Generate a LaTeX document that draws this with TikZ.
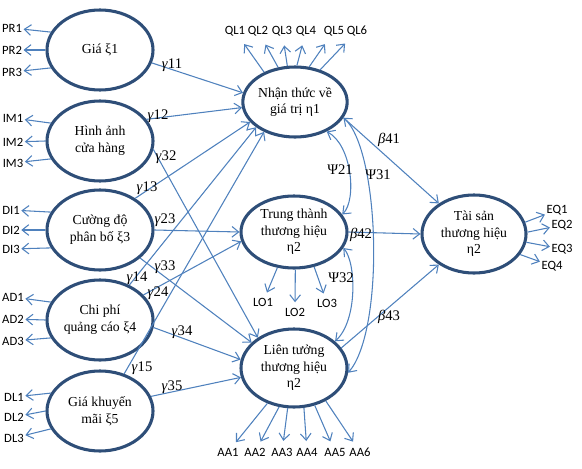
\documentclass[tikz,border=0pt]{standalone}
\usepackage{fontspec}
\setmainfont{Liberation Serif}
\newfontfamily\calibri{Carlito}
\usetikzlibrary{shapes.geometric,arrows.meta}
\definecolor{rimblue}{RGB}{46,78,120}
\definecolor{lineblue}{RGB}{79,129,189}

\begin{document}
\begin{tikzpicture}[x=0.75pt,y=0.75pt,
	latent/.style={ellipse,draw=rimblue,line width=2.3pt,align=center,inner sep=0pt,font=\fontsize{10.3}{12.5}\selectfont},
	exo/.style={latent,minimum width=79.5pt,minimum height=60pt},
	ind/.style={font=\calibri\fontsize{9.5}{10}\selectfont,inner sep=1pt},
	coef/.style={font=\fontsize{11}{12}\selectfont,inner sep=0pt},
	link/.style={draw=lineblue,line width=0.8pt,->},
	>={Straight Barb[length=5pt,width=8pt]}]
				\useasboundingbox (0,0) rectangle (582,-468);

				% exogenous
				\node[exo] (gia) at (100,-50) {Giá ξ1};
				\node[exo] (hinhanh) at (100,-141) {Hình ảnh\\cửa hàng};
				\node[exo] (cuongdo) at (100,-230) {Cường độ\\phân bố ξ3};
				\node[exo] (chiphi) at (100,-320) {Chi phí\\quảng cáo ξ4};
				\node[exo] (khuyenmai) at (100,-411) {Giá khuyến\\mãi ξ5};

				% endogenous
				\node[latent,minimum width=78pt,minimum height=52.5pt] (nhanthuc) at (295,-102) {Nhận thức về\\giá trị η1};
				\node[latent,minimum width=79.5pt,minimum height=54pt] (trungthanh) at (294,-232) {Trung thành\\thương hiệu\\η2};
				\node[latent,minimum width=79.5pt,minimum height=58.5pt] (lientuong) at (294,-368) {Liên tưởng\\thương hiệu\\η2};
				\node[latent,minimum width=78pt,minimum height=58.5pt] (taisan) at (474,-234) {Tài sản\\thương hiệu\\η2};

				% indicators
				\node[ind] (pr1) at (12,-28) {PR1};
				\node[ind] (pr2) at (12,-50) {PR2};
				\node[ind] (pr3) at (12,-72) {PR3};
				\node[ind] (im1) at (13,-118) {IM1};
				\node[ind] (im2) at (13,-142) {IM2};
				\node[ind] (im3) at (13,-163) {IM3};
				\node[ind] (di1) at (11,-210) {DI1};
				\node[ind] (di2) at (11,-230) {DI2};
				\node[ind] (di3) at (11,-249) {DI3};
				\node[ind] (ad1) at (13,-297) {AD1};
				\node[ind] (ad2) at (13,-319) {AD2};
				\node[ind] (ad3) at (13,-341) {AD3};
				\node[ind] (dl1) at (14,-397) {DL1};
				\node[ind] (dl2) at (14,-417) {DL2};
				\node[ind] (dl3) at (14,-438) {DL3};
				\node[ind] (ql1) at (235,-31) {QL1};
				\node[ind] (ql2) at (258,-31) {QL2};
				\node[ind] (ql3) at (282,-31) {QL3};
				\node[ind] (ql4) at (306,-31) {QL4};
				\node[ind] (ql5) at (334,-31) {QL5};
				\node[ind] (ql6) at (357,-31) {QL6};
				\node[ind] (lo1) at (263,-302) {LO1};
				\node[ind] (lo2) at (295,-312) {LO2};
				\node[ind] (lo3) at (327,-303) {LO3};
				\node[ind] (aa1) at (228,-452) {AA1};
				\node[ind] (aa2) at (255,-452) {AA2};
				\node[ind] (aa3) at (282,-452) {AA3};
				\node[ind] (aa4) at (307,-452) {AA4};
				\node[ind] (aa5) at (335,-452) {AA5};
				\node[ind] (aa6) at (360,-452) {AA6};
				\node[ind] (eq1) at (557,-210) {EQ1};
				\node[ind] (eq2) at (562,-225) {EQ2};
				\node[ind] (eq3) at (562,-249) {EQ3};
				\node[ind] (eq4) at (552,-266) {EQ4};

				\draw [link](gia.160) -- (pr1);
				\draw [link](gia.180) -- (pr2);
				\draw [link](gia.200) -- (pr3);
				\draw [link](hinhanh.160) -- (im1);
				\draw [link](hinhanh.180) -- (im2);
				\draw [link](hinhanh.200) -- (im3);
				\draw [link](cuongdo.160) -- (di1);
				\draw [link](cuongdo.180) -- (di2);
				\draw [link](cuongdo.200) -- (di3);
				\draw [link](chiphi.160) -- (ad1);
				\draw [link](chiphi.180) -- (ad2);
				\draw [link](chiphi.200) -- (ad3);
				\draw [link](khuyenmai.160) -- (dl1);
				\draw [link](khuyenmai.180) -- (dl2);
				\draw [link](khuyenmai.200) -- (dl3);
				\draw [link,shorten >=6pt](nhanthuc.136) -- (ql1);
				\draw [link,shorten >=6pt](nhanthuc.116) -- (ql2);
				\draw [link,shorten >=6pt](nhanthuc.102) -- (ql3);
				\draw [link,shorten >=6pt](nhanthuc.87) -- (ql4);
				\draw [link,shorten >=6pt](nhanthuc.68) -- (ql5);
				\draw [link,shorten >=6pt](nhanthuc.52) -- (ql6);
				\draw [link,shorten >=3pt](trungthanh.245) -- (lo1);
				\draw [link,shorten >=3pt](trungthanh.272) -- (lo2);
				\draw [link,shorten >=3pt](trungthanh.300) -- (lo3);
				\draw [link,shorten >=4pt](lientuong.233) -- (aa1);
				\draw [link,shorten >=4pt](lientuong.249) -- (aa2);
				\draw [link,shorten >=4pt](lientuong.261) -- (aa3);
				\draw [link,shorten >=4pt](lientuong.284) -- (aa4);
				\draw [link,shorten >=4pt](lientuong.299) -- (aa5);
				\draw [link,shorten >=4pt](lientuong.314) -- (aa6);
				\draw [link](taisan.13) -- (eq1);
				\draw [link](taisan.2) -- (eq2);
				\draw [link](taisan.-9) -- (eq3);
				\draw [link](taisan.-24) -- (eq4);

				% structural paths
				\draw [link](gia.-14) -- (nhanthuc.170);
				\draw [link](hinhanh.25) -- (nhanthuc.186);
				\draw [link](cuongdo.42) -- (nhanthuc.204);
				\draw [link](chiphi.50) -- (nhanthuc.213);
				\draw [link](khuyenmai.57) -- (nhanthuc.224);
				\draw [link](cuongdo.east) -- (trungthanh.west);
				\draw [link](chiphi.30) -- (trungthanh.190);
				\draw [link](hinhanh.-9) -- (lientuong.140);
				\draw [link](cuongdo.-35) -- (lientuong.149);
				\draw [link](chiphi.-8) -- (lientuong.171);
				\draw [link](khuyenmai.16) -- (lientuong.190);
				\draw [link](nhanthuc.-18) -- (taisan.139);
				\draw [link](trungthanh.east) -- (taisan.west);
				\draw [link](lientuong.23) -- (taisan.221);
				\draw [link,<->](nhanthuc.-43) .. controls (352,-145) and (357,-200) .. (trungthanh.20);
				\draw [link,<->](nhanthuc.-18) .. controls (380,-150) and (385,-330) .. (lientuong.-5);
				\draw [link,<->](trungthanh.-18) .. controls (356,-262) and (358,-320) .. (lientuong.33);

				% coefficients
				\node[coef] (g11) at (172,-65) {\textit{γ}11};
				\node[coef] (g12) at (158,-116) {\textit{γ}12};
				\node[coef] (g32) at (166,-157) {\textit{γ}32};
				\node[coef] (g13) at (147,-188) {\textit{γ}13};
				\node[coef] (g23) at (165,-220) {\textit{γ}23};
				\node[coef] (g33) at (165,-267) {\textit{γ}33};
				\node[coef] (g14) at (137,-278) {\textit{γ}14};
				\node[coef] (g24) at (158,-293) {\textit{γ}24};
				\node[coef] (g34) at (182,-332) {\textit{γ}34};
				\node[coef] (g15) at (142,-368) {\textit{γ}15};
				\node[coef] (g35) at (172,-387) {\textit{γ}35};
				\node[coef] (b41) at (389,-140) {\textit{β}41};
				\node[coef] (b42) at (361,-235) {\textit{β}42};
				\node[coef] (b43) at (389,-317) {\textit{β}43};
				\node[coef] (p21) at (340,-170) {Ψ21};
				\node[coef] (p31) at (378,-175) {Ψ31};
				\node[coef] (p32) at (341,-278) {Ψ32};
			\end{tikzpicture}
\end{document}
